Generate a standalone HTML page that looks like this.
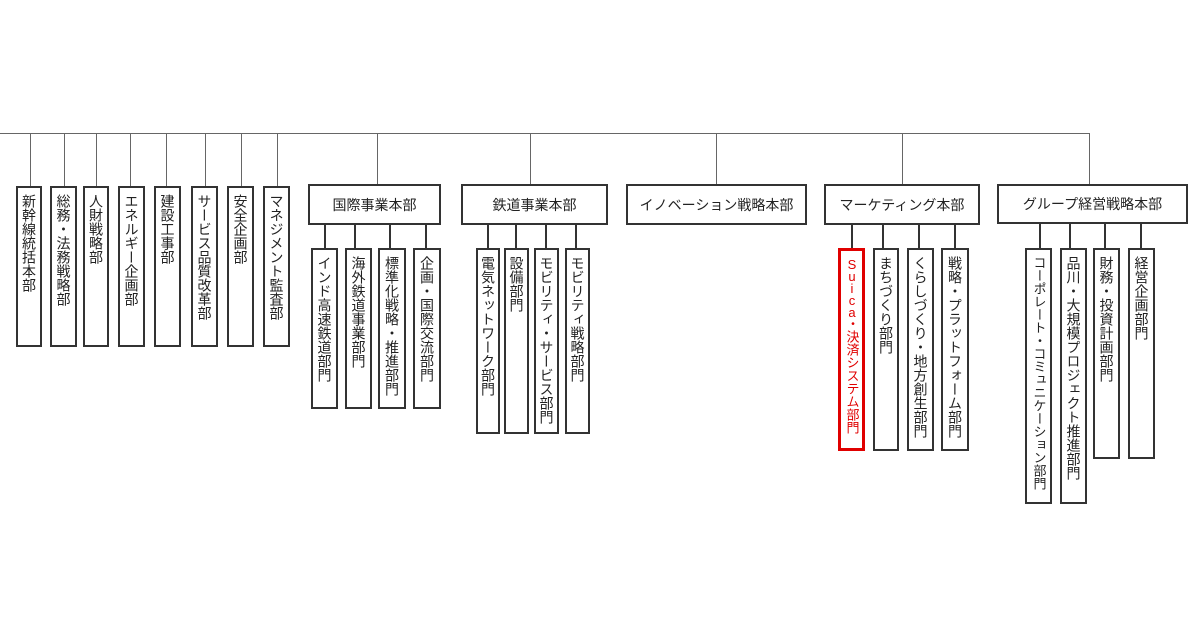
<!DOCTYPE html>
<html><head><meta charset="utf-8"><style>
body{margin:0;width:1200px;height:630px;background:#fff;position:relative;overflow:hidden;font-family:"Liberation Sans","Noto Sans CJK JP",sans-serif;color:#222}
.l{position:absolute;background:#666}
.d{position:absolute;background:#333}
.b{position:absolute;box-sizing:border-box;border:2px solid #333;background:#fff}
.v{writing-mode:vertical-rl;font-size:14px;line-height:24px;padding-top:6px;display:flex;align-items:center;white-space:nowrap;overflow:hidden}
.h{display:flex;align-items:center;justify-content:center;font-size:14px}
.r{border:3px solid #e00000;color:#e00000;font-size:13px}
.r span{text-orientation:upright;letter-spacing:-3px}
</style></head><body>
<div class="l" style="left:0;top:133px;width:1090px;height:1px"></div>
<div class="l" style="left:30px;top:134px;width:1px;height:53px"></div>
<div class="l" style="left:64px;top:134px;width:1px;height:53px"></div>
<div class="l" style="left:96px;top:134px;width:1px;height:53px"></div>
<div class="l" style="left:130px;top:134px;width:1px;height:53px"></div>
<div class="l" style="left:166px;top:134px;width:1px;height:53px"></div>
<div class="l" style="left:205px;top:134px;width:1px;height:53px"></div>
<div class="l" style="left:241px;top:134px;width:1px;height:53px"></div>
<div class="l" style="left:277px;top:134px;width:1px;height:53px"></div>
<div class="l" style="left:377px;top:134px;width:1px;height:51px"></div>
<div class="l" style="left:530px;top:134px;width:1px;height:51px"></div>
<div class="l" style="left:716px;top:134px;width:1px;height:51px"></div>
<div class="l" style="left:902px;top:134px;width:1px;height:51px"></div>
<div class="l" style="left:1089px;top:134px;width:1px;height:51px"></div>

<div class="b v" style="left:16px;top:186px;width:26px;height:161px">新幹線統括本部</div>
<div class="b v" style="left:50px;top:186px;width:27px;height:161px">総務・法務戦略部</div>
<div class="b v" style="left:83px;top:186px;width:26px;height:161px">人財戦略部</div>
<div class="b v" style="left:118px;top:186px;width:27px;height:161px">エネルギー企画部</div>
<div class="b v" style="left:154px;top:186px;width:27px;height:161px">建設工事部</div>
<div class="b v" style="left:191px;top:186px;width:27px;height:161px">サービス品質改革部</div>
<div class="b v" style="left:227px;top:186px;width:27px;height:161px">安全企画部</div>
<div class="b v" style="left:263px;top:186px;width:27px;height:161px">マネジメント監査部</div>

<div class="b h" style="left:308px;top:184px;width:133px;height:41px">国際事業本部</div>
<div class="b h" style="left:461px;top:184px;width:147px;height:41px">鉄道事業本部</div>
<div class="b h" style="left:626px;top:184px;width:181px;height:41px">イノベーション戦略本部</div>
<div class="b h" style="left:824px;top:184px;width:156px;height:41px">マーケティング本部</div>
<div class="b h" style="left:997px;top:184px;width:191px;height:40px">グループ経営戦略本部</div>

<div class="d" style="left:324px;top:224px;width:2px;height:25px"></div>
<div class="d" style="left:354px;top:224px;width:2px;height:25px"></div>
<div class="d" style="left:389px;top:224px;width:2px;height:25px"></div>
<div class="d" style="left:425px;top:224px;width:2px;height:25px"></div>
<div class="b v" style="left:311px;top:248px;width:27px;height:161px">インド高速鉄道部門</div>
<div class="b v" style="left:345px;top:248px;width:27px;height:161px">海外鉄道事業部門</div>
<div class="b v" style="left:378px;top:248px;width:28px;height:161px">標準化戦略・推進部門</div>
<div class="b v" style="left:413px;top:248px;width:28px;height:161px">企画・国際交流部門</div>

<div class="d" style="left:487px;top:224px;width:2px;height:25px"></div>
<div class="d" style="left:515px;top:224px;width:2px;height:25px"></div>
<div class="d" style="left:545px;top:224px;width:2px;height:25px"></div>
<div class="d" style="left:575px;top:224px;width:2px;height:25px"></div>
<div class="b v" style="left:476px;top:248px;width:24px;height:186px">電気ネットワーク部門</div>
<div class="b v" style="left:504px;top:248px;width:25px;height:186px">設備部門</div>
<div class="b v" style="left:534px;top:248px;width:25px;height:186px">モビリティ・サービス部門</div>
<div class="b v" style="left:565px;top:248px;width:25px;height:186px">モビリティ戦略部門</div>

<div class="d" style="left:851px;top:224px;width:2px;height:25px"></div>
<div class="d" style="left:882px;top:224px;width:2px;height:25px"></div>
<div class="d" style="left:918px;top:224px;width:2px;height:25px"></div>
<div class="d" style="left:954px;top:224px;width:2px;height:25px"></div>
<div class="b v r" style="left:838px;top:248px;width:27px;height:203px"><span>Suica</span>・決済システム部門</div>
<div class="b v" style="left:873px;top:248px;width:26px;height:203px">まちづくり部門</div>
<div class="b v" style="left:907px;top:248px;width:27px;height:203px">くらしづくり・地方創生部門</div>
<div class="b v" style="left:941px;top:248px;width:28px;height:203px">戦略・プラットフォーム部門</div>

<div class="d" style="left:1039px;top:224px;width:2px;height:25px"></div>
<div class="d" style="left:1069px;top:224px;width:2px;height:25px"></div>
<div class="d" style="left:1104px;top:224px;width:2px;height:25px"></div>
<div class="d" style="left:1140px;top:224px;width:2px;height:25px"></div>
<div class="b v" style="left:1025px;top:248px;width:27px;height:256px;font-size:13px">コーポレート・コミュニケーション部門</div>
<div class="b v" style="left:1060px;top:248px;width:27px;height:256px">品川・大規模プロジェクト推進部門</div>
<div class="b v" style="left:1093px;top:248px;width:27px;height:211px">財務・投資計画部門</div>
<div class="b v" style="left:1128px;top:248px;width:27px;height:211px">経営企画部門</div>
</body></html>
